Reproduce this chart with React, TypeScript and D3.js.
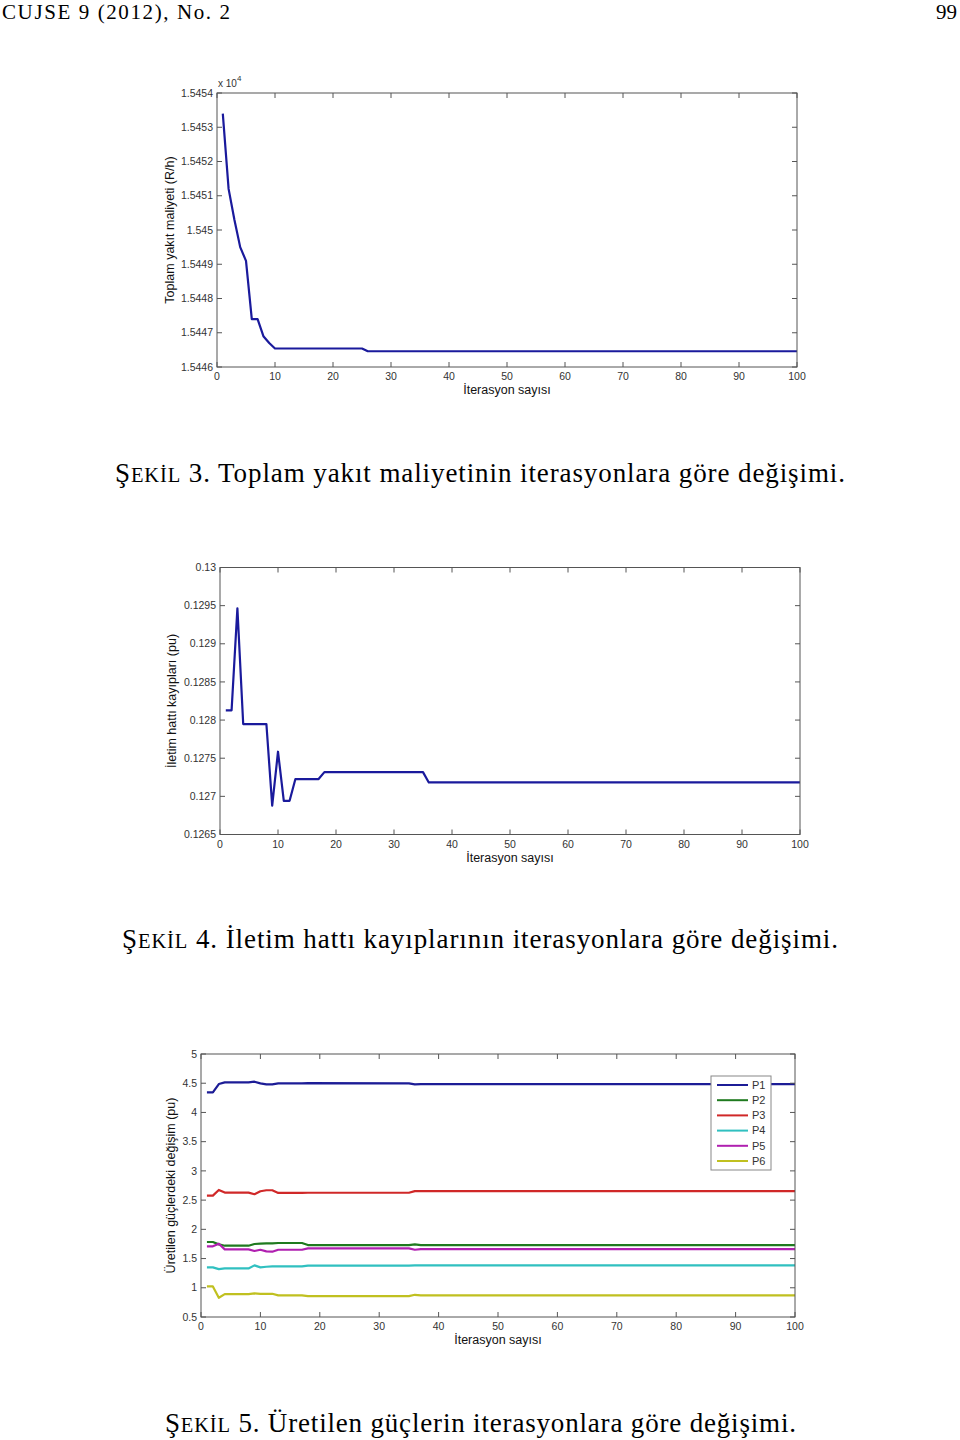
import React from 'react';
import * as d3 from 'd3';

// Şekil 3 - toplam yakıt maliyeti (x 10^4)
const costIters = [1, 2, 3, 4, 5, 6, 7, 8, 9, 10, 25, 26, 100];
const costValues = [1.54534, 1.54512, 1.54503, 1.54495, 1.54491, 1.54474, 1.54474, 1.54469, 1.54467, 1.544654, 1.544654, 1.544646, 1.544646];
const costTicks = [1.5446, 1.5447, 1.5448, 1.5449, 1.545, 1.5451, 1.5452, 1.5453, 1.5454];

// Şekil 4 - iletim hattı kayıpları
const lossIters = [1, 2, 3, 4, 8, 9, 10, 11, 12, 13, 17, 18, 35, 36, 100];
const lossValues = [0.128128, 0.128128, 0.129466, 0.127948, 0.127948, 0.126877, 0.127585, 0.126942, 0.126942, 0.127227, 0.127227, 0.127318, 0.127318, 0.127182, 0.127182];
const lossTicks = [0.1265, 0.127, 0.1275, 0.128, 0.1285, 0.129, 0.1295, 0.13];

// Şekil 5 - üretilen güçler
const powerIters = [1, 2, 3, 4, 8, 9, 10, 11, 12, 13, 17, 18, 35, 36, 37, 100];
const p1 = [4.343, 4.343, 4.486, 4.514, 4.514, 4.526, 4.497, 4.48, 4.48, 4.497, 4.497, 4.503, 4.497, 4.48, 4.486, 4.486];
const p2 = [1.783, 1.783, 1.743, 1.72, 1.72, 1.749, 1.754, 1.76, 1.76, 1.766, 1.766, 1.731, 1.731, 1.743, 1.731, 1.731];
const p3 = [2.577, 2.577, 2.674, 2.629, 2.629, 2.6, 2.651, 2.669, 2.669, 2.623, 2.623, 2.626, 2.626, 2.654, 2.654, 2.654];
const p4 = [1.349, 1.349, 1.32, 1.331, 1.331, 1.383, 1.349, 1.36, 1.366, 1.366, 1.366, 1.38, 1.38, 1.383, 1.383, 1.383];
const p5 = [1.709, 1.709, 1.754, 1.657, 1.657, 1.629, 1.651, 1.623, 1.617, 1.651, 1.651, 1.674, 1.674, 1.651, 1.66, 1.66];
const p6 = [1.023, 1.023, 0.829, 0.891, 0.891, 0.903, 0.897, 0.897, 0.897, 0.869, 0.869, 0.857, 0.857, 0.88, 0.871, 0.871];
const powerNames = ['P1', 'P2', 'P3', 'P4', 'P5', 'P6'];
const powerColors = ['#1c1c96', '#1f7a1f', '#d02828', '#30c0c0', '#b020b0', '#c0c020'];
const powerTicks = [0.5, 1, 1.5, 2, 2.5, 3, 3.5, 4, 4.5, 5];

const xTicks = [0, 10, 20, 30, 40, 50, 60, 70, 80, 90, 100];

const AX = '#555';
const TXT = '#333';
const SANS = '"Liberation Sans", Arial, sans-serif';
const SERIF = '"Liberation Serif", "Times New Roman", serif';

type Series = { x: number[]; y: number[]; color: string; name?: string };

interface ChartProps {
  left: number; right: number; top: number; bottom: number;
  yDomain: [number, number];
  yTicks: number[];
  series: Series[];
  yLabel: string;
  yLabelX: number;
  xLabelY: number;
  legend?: boolean;
  exponent?: boolean;
}

const fmt = (v: number) => String(+v.toFixed(4));

const Chart: React.FC<ChartProps> = (p) => {
  const x = d3.scaleLinear().domain([0, 100]).range([p.left, p.right]);
  const y = d3.scaleLinear().domain(p.yDomain).range([p.bottom, p.top]);
  const line = d3.line<[number, number]>().x(d => x(d[0])).y(d => y(d[1]));
  const tl = 5;
  const cx = (p.left + p.right) / 2;
  const cy = (p.top + p.bottom) / 2;

  return (
    <g>
      {p.series.map((s, i) => (
        <path key={i} d={line(s.x.map((v, j) => [v, s.y[j]] as [number, number])) || ''}
          fill="none" stroke={s.color} strokeWidth={2.2} strokeLinejoin="round" />
      ))}
      <rect x={p.left} y={p.top} width={p.right - p.left} height={p.bottom - p.top}
        fill="none" stroke={AX} strokeWidth={1} />
      {xTicks.map(t => (
        <g key={'x' + t}>
          <line x1={x(t)} x2={x(t)} y1={p.bottom} y2={p.bottom - tl} stroke={AX} />
          <line x1={x(t)} x2={x(t)} y1={p.top} y2={p.top + tl} stroke={AX} />
          <text x={x(t)} y={p.bottom + 13} textAnchor="middle" fontSize={10.5}
            fontFamily={SANS} fill={TXT}>{t}</text>
        </g>
      ))}
      {p.yTicks.map(t => (
        <g key={'y' + t}>
          <line x1={p.left} x2={p.left + tl} y1={y(t)} y2={y(t)} stroke={AX} />
          <line x1={p.right} x2={p.right - tl} y1={y(t)} y2={y(t)} stroke={AX} />
          <text x={p.left - 4} y={y(t)} dy="0.35em" textAnchor="end" fontSize={10.5}
            fontFamily={SANS} fill={TXT}>{fmt(t)}</text>
        </g>
      ))}
      {p.exponent && (
        <text x={p.left + 1} y={p.top - 6} fontSize={10} fontFamily={SANS} fill={TXT}>
          x 10<tspan dy={-6} fontSize={8}>4</tspan>
        </text>
      )}
      <text x={cx} y={p.xLabelY} textAnchor="middle" fontSize={12.5} fontFamily={SANS}
        fill="#111">İterasyon sayısı</text>
      <text transform={`translate(${p.yLabelX},${cy}) rotate(-90)`} textAnchor="middle"
        fontSize={12.5} fontFamily={SANS} fill="#111">{p.yLabel}</text>
      {p.legend && (
        <g>
          <rect x={711} y={1076} width={60} height={94} fill="#fff" stroke="#888" />
          {p.series.map((s, i) => (
            <g key={'l' + i}>
              <line x1={717} x2={748} y1={1085 + i * 15.2} y2={1085 + i * 15.2}
                stroke={s.color} strokeWidth={2} />
              <text x={752} y={1085 + i * 15.2} dy="0.35em" fontSize={11}
                fontFamily={SANS} fill={TXT}>{s.name}</text>
            </g>
          ))}
        </g>
      )}
    </g>
  );
};

const Caption: React.FC<{ n: number; rest: string; x: number; y: number; w: number }> = ({ n, rest, x, y, w }) => (
  <text x={x} y={y} fontSize={27} fontFamily={SERIF} fill="#000" textLength={w}>
    Ş<tspan fontSize={20.5}>EKİL</tspan> {n}. {rest}
  </text>
);

export default function App() {
  const powerSeries = [p1, p2, p3, p4, p5, p6].map((v, i) => ({
    x: powerIters, y: v, color: powerColors[i], name: powerNames[i],
  }));
  return (
    <svg width={960} height={1440} style={{ position: 'absolute', left: 0, top: 0, background: '#fff' }}>
      <rect width={960} height={1440} fill="#fff" />
      <text x={2} y={19} fontSize={21} fontFamily={SERIF} textLength={228}>CUJSE   9 (2012), No. 2</text>
      <text x={957} y={19} fontSize={21} fontFamily={SERIF} textAnchor="end">99</text>

      <Chart left={217} right={797} top={93} bottom={367} yDomain={[1.5446, 1.5454]}
        yTicks={costTicks} series={[{ x: costIters, y: costValues, color: '#1a1a9c' }]}
        yLabel="Toplam yakıt maliyeti (R/h)" yLabelX={174} xLabelY={394} exponent />
      <Caption n={3} rest="Toplam yakıt maliyetinin iterasyonlara göre değişimi." x={115} y={482} w={730} />

      <Chart left={220} right={800} top={567.5} bottom={834.5} yDomain={[0.1265, 0.13]}
        yTicks={lossTicks} series={[{ x: lossIters, y: lossValues, color: '#1a1a9c' }]}
        yLabel="İletim hattı kayıpları (pu)" yLabelX={176} xLabelY={862} />
      <Caption n={4} rest="İletim hattı kayıplarının iterasyonlara göre değişimi." x={122} y={948} w={716} />

      <Chart left={201} right={795} top={1054} bottom={1317} yDomain={[0.5, 5]}
        yTicks={powerTicks} series={powerSeries}
        yLabel="Üretilen güçlerdeki değişim (pu)" yLabelX={175} xLabelY={1344} legend />
      <Caption n={5} rest="Üretilen güçlerin iterasyonlara göre değişimi." x={165} y={1432} w={631} />
    </svg>
  );
}
